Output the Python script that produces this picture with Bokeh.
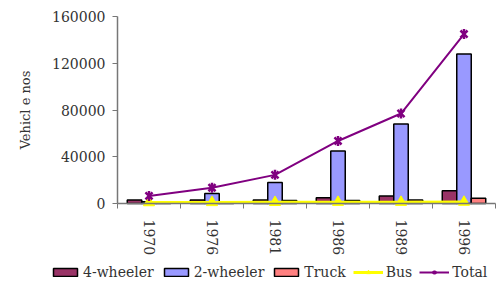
import math
import numpy as np
from bokeh.plotting import figure
from bokeh.models import (Range1d, FixedTicker, NumeralTickFormatter, Legend, LegendItem,
                          ColumnDataSource, LinearAxis)
from bokeh.embed import file_html
from bokeh.resources import INLINE

years = ["1970", "1976", "1981", "1986", "1989", "1996"]
four_wheeler = [3000, 3000, 3000, 5000, 6500, 11000]
two_wheeler = [1500, 8500, 18000, 45000, 68000, 128000]
truck = [1000, 1500, 2500, 2500, 3000, 4500]
bus = [800, 900, 1000, 1100, 1100, 1200]
total = [6500, 13500, 24500, 53500, 77000, 145000]
y_ticks = [0, 40000, 80000, 120000, 160000]

FONT = "DejaVu Serif"
AX = "#777777"
TXT = "#333333"
C4, C2, CT, CB, CTOT = "#993366", "#9999FF", "#FF8080", "#FFFF00", "#800080"

# canvas layout (pixels)
W, H = 496, 281
AX_X0, AX_X1 = 117, 495      # pixel span of the category axis
AX_Y0, AX_Y1 = 203, 16       # pixel of y=0 and y=max

n = len(years)
ymax = y_ticks[-1]
ppx = (AX_X1 - AX_X0) / n
ppy = (AX_Y0 - AX_Y1) / ymax
x_range = Range1d(-AX_X0 / ppx, (W - AX_X0) / ppx)
y_range = Range1d(-(H - AX_Y0) / ppy, ymax + AX_Y1 / ppy)

idx = np.arange(n)
centers = idx + 0.5
bounds = list(np.arange(n + 1).astype(float))
bw = 0.23

src = ColumnDataSource(dict(
    x4=centers - bw, x2=centers, xt=centers + bw, xc=centers,
    four=four_wheeler, two=two_wheeler, truck=truck, bus=bus, total=total,
))

p = figure(width=W, height=H, output_backend="svg", toolbar_location=None,
           x_range=x_range, y_range=y_range, x_axis_type=None, y_axis_type=None,
           min_border=0)
p.outline_line_color = None
p.xgrid.visible = False
p.ygrid.visible = False

r4 = p.vbar(x="x4", top="four", width=bw, source=src, fill_color=C4, line_color="black", line_width=1.5)
r2 = p.vbar(x="x2", top="two", width=bw, source=src, fill_color=C2, line_color="black", line_width=1.5)
rt = p.vbar(x="xt", top="truck", width=bw, source=src, fill_color=CT, line_color="black", line_width=1.5)

rb_l = p.line(x="xc", y="bus", source=src, line_color=CB, line_width=3)
rb_m = p.scatter(x="xc", y="bus", source=src, marker="triangle", size=11, fill_color=CB, line_color=CB)

rtot_l = p.line(x="xc", y="total", source=src, line_color=CTOT, line_width=2)
rtot_x = p.scatter(x="xc", y="total", source=src, marker="x", size=10, line_color=CTOT, line_width=2.5)
rtot_d = p.scatter(x="xc", y="total", source=src, marker="dash", angle=math.pi / 2, size=10, line_color=CTOT, line_width=2.5)

# x axis
xa = LinearAxis(fixed_location=0, bounds=(0, n))
xa.ticker = FixedTicker(ticks=list(centers), minor_ticks=bounds)
xa.major_label_overrides = {float(c): y for c, y in zip(centers, years)}
xa.major_label_orientation = -math.pi / 2
xa.major_tick_in = 0
xa.major_tick_out = 0
xa.minor_tick_in = 0
xa.minor_tick_out = 5
xa.minor_tick_line_color = AX
xa.axis_line_color = AX
xa.axis_line_width = 1.5
xa.major_label_text_font = FONT
xa.major_label_text_font_size = "14px"
xa.major_label_text_color = TXT
xa.major_label_standoff = 11
p.add_layout(xa, "below")

# y axis
ya = LinearAxis(fixed_location=0, bounds=(0, ymax))
ya.ticker = FixedTicker(ticks=y_ticks)
ya.formatter = NumeralTickFormatter(format="0")
ya.major_tick_in = 0
ya.major_tick_out = 5
ya.minor_tick_line_color = None
ya.axis_line_color = AX
ya.axis_line_width = 1.5
ya.major_tick_line_color = AX
ya.major_label_text_font = FONT
ya.major_label_text_font_size = "14px"
ya.major_label_text_color = TXT
ya.major_label_standoff = 7
ya.axis_label = "Vehicl e nos"
ya.axis_label_text_font = FONT
ya.axis_label_text_font_style = "normal"
ya.axis_label_text_font_size = "13px"
ya.axis_label_text_color = TXT
ya.axis_label_standoff = 16
p.add_layout(ya, "left")

legend = Legend(items=[
    LegendItem(label="4-wheeler", renderers=[r4]),
    LegendItem(label="2-wheeler", renderers=[r2]),
    LegendItem(label="Truck", renderers=[rt]),
    LegendItem(label="Bus", renderers=[rb_l, rb_m]),
    LegendItem(label="Total", renderers=[rtot_l, rtot_x, rtot_d]),
], orientation="horizontal", location=(50, 1))
legend.glyph_width = 30
legend.glyph_height = 10
legend.label_standoff = 3
legend.spacing = 7
legend.padding = 2
legend.margin = 0
legend.border_line_color = None
legend.background_fill_alpha = 0
legend.label_text_font = FONT
legend.label_text_font_size = "14px"
legend.label_text_color = TXT
p.add_layout(legend, "center")

open("out.html", "w").write(file_html(p, INLINE))
